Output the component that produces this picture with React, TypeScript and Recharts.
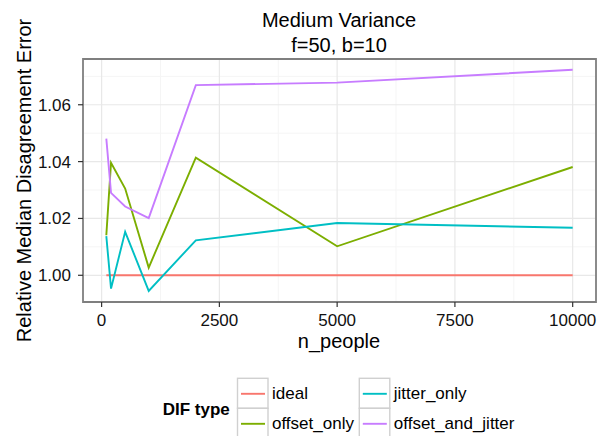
import React from "react";
import { LineChart, Line, XAxis, YAxis, CartesianGrid, ReferenceArea } from "recharts";

const nPeople = [100, 200, 500, 1000, 2000, 5000, 10000];
const ideal = [1, 1, 1, 1, 1, 1, 1];
const offsetOnly = [1.0141, 1.0396, 1.0305, 1.0027, 1.0414, 1.0102, 1.0381];
const jitterOnly = [1.0138, 0.9953, 1.0153, 0.9945, 1.0123, 1.0184, 1.0167];
const offsetAndJitter = [1.0481, 1.029, 1.0242, 1.0201, 1.0669, 1.0678, 1.0723];

const xTicks = [0, 2500, 5000, 7500, 10000];
const xMinor = [1250, 3750, 6250, 8750];
const yTicks = [1.0, 1.02, 1.04, 1.06];
const yMinor = [1.01, 1.03, 1.05, 1.07];

const xDomain: [number, number] = [-395, 10495];
const yDomain: [number, number] = [0.9906, 1.0761];

const seriesNames = ["ideal", "offset_only", "jitter_only", "offset_and_jitter"];
const seriesColors = ["#F8766D", "#7CAE00", "#00BFC4", "#C77CFF"];
const seriesValues = [ideal, offsetOnly, jitterOnly, offsetAndJitter];

const data = nPeople.map((n, i) => {
  const row: Record<string, number> = { n };
  seriesNames.forEach((s, k) => {
    row[s] = seriesValues[k][i];
  });
  return row;
});

const FONT = "'Liberation Sans', Arial, Helvetica, sans-serif";

export default function App() {
  const W = 607;
  const H = 436;
  return (
    <div style={{ position: "absolute", left: 0, top: 0, width: W, height: H, background: "#fff", fontFamily: FONT }}>
      <LineChart width={W} height={H} data={data} margin={{ top: 59, right: 11, bottom: 0, left: 0 }}>
        <CartesianGrid
          horizontalValues={yMinor}
          verticalValues={xMinor}
          stroke="#f5f5f5"
          strokeWidth={1}
        />
        <CartesianGrid
          horizontalValues={yTicks}
          verticalValues={xTicks}
          stroke="#e8e8e8"
          strokeWidth={1.2}
        />
        <XAxis
          type="number"
          dataKey="n"
          domain={xDomain}
          ticks={xTicks}
          allowDataOverflow
          height={134}
          axisLine={false}
          tickLine={{ stroke: "#333", strokeWidth: 1.2 }}
          tickSize={5}
          tickMargin={7}
          tick={{ fill: "#111", fontSize: 17, fontFamily: FONT }}
        />
        <YAxis
          type="number"
          domain={yDomain}
          ticks={yTicks}
          allowDataOverflow
          width={83}
          axisLine={false}
          tickLine={{ stroke: "#333", strokeWidth: 1.2 }}
          tickSize={5}
          tickMargin={7}
          tickFormatter={(v: number) => v.toFixed(2)}
          tick={{ fill: "#111", fontSize: 17, fontFamily: FONT }}
        />
        {seriesNames.map((s, k) => (
          <Line
            key={s}
            type="linear"
            dataKey={s}
            stroke={seriesColors[k]}
            strokeWidth={1.9}
            dot={false}
            activeDot={false}
            isAnimationActive={false}
          />
        ))}
        <ReferenceArea
          x1={xDomain[0]}
          x2={xDomain[1]}
          y1={yDomain[0]}
          y2={yDomain[1]}
          fill="none"
          fillOpacity={0}
          stroke="#7f7f7f"
          strokeWidth={1.8}
          ifOverflow="extendDomain"
        />
      </LineChart>
      <svg
        width={W}
        height={H}
        style={{ position: "absolute", left: 0, top: 0, pointerEvents: "none" }}
        fontFamily={FONT}
      >
        <text x={339} y={27} textAnchor="middle" fontSize={20} fill="#000">Medium Variance</text>
        <text x={339} y={52} textAnchor="middle" fontSize={20} fill="#000">f=50, b=10</text>
        <text x={339} y={348} textAnchor="middle" fontSize={20} fill="#000">n_people</text>
        <text
          x={0}
          y={0}
          transform="translate(31,180.5) rotate(-90)"
          textAnchor="middle"
          fontSize={20}
          fill="#000"
        >
          Relative Median Disagreement Error
        </text>
        <text x={162.7} y={415} fontSize={17} fontWeight="bold" fill="#000">DIF type</text>
        {seriesNames.map((s, k) => {
          const col = Math.floor(k / 2);
          const row = k % 2;
          const bx = col === 0 ? 237.5 : 359.3;
          const by = 378.3 + row * 30;
          return (
            <g key={s}>
              <rect x={bx} y={by} width={30.5} height={30} fill="#fff" stroke="#d0d0d0" strokeWidth={1.4} />
              <line x1={bx + 3.5} x2={bx + 27.5} y1={by + 15.5} y2={by + 15.5} stroke={seriesColors[k]} strokeWidth={1.9} />
              <text x={bx + 34.5} y={by + 21} fontSize={17} fill="#000">{s}</text>
            </g>
          );
        })}
      </svg>
    </div>
  );
}
